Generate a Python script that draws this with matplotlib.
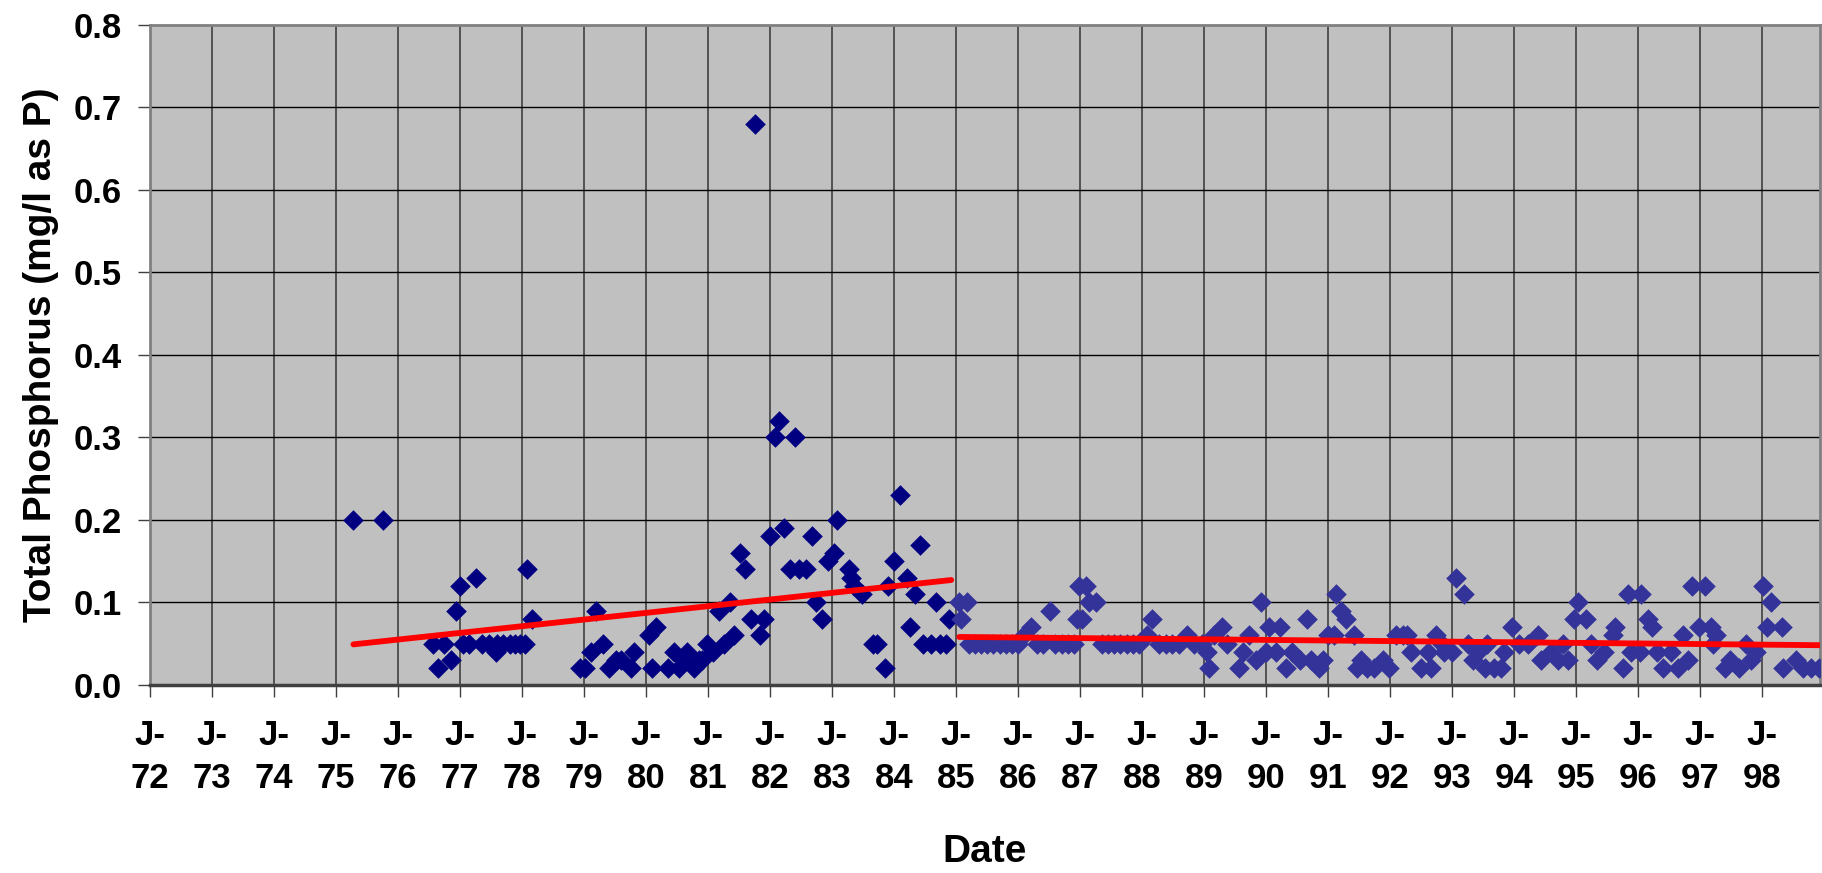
import matplotlib
matplotlib.use('Agg')
import matplotlib.pyplot as plt

# first period (navy) - decimal year, total phosphorus mg/l
dates1 = [75.28, 75.76,
          76.57, 76.65, 76.74, 76.85, 76.94, 77.0, 77.05, 77.15, 77.26, 77.35, 77.46,
          77.58, 77.59, 77.70, 77.80, 77.89, 77.97, 78.05, 78.08, 78.16,
          78.93, 79.02, 79.11, 79.19, 79.31, 79.40, 79.51, 79.59, 79.75, 79.80,
          80.05, 80.10, 80.16, 80.35, 80.45, 80.53, 80.61, 80.66, 80.77, 80.85, 80.90, 80.98,
          81.08, 81.17, 81.25, 81.36, 81.41, 81.51, 81.59, 81.69, 81.76, 81.84, 81.90,
          82.0, 82.08, 82.15, 82.22, 82.32, 82.40, 82.46, 82.58, 82.67, 82.74, 82.83,
          82.93, 83.03, 83.08, 83.27, 83.31, 83.36, 83.48, 83.66, 83.73, 83.86, 83.90,
          84.0, 84.09, 84.2, 84.26, 84.33, 84.41, 84.47, 84.59, 84.68, 84.74, 84.83, 84.88]
tp1 = [0.20, 0.20,
       0.05, 0.02, 0.05, 0.03, 0.09, 0.12, 0.05, 0.05, 0.13, 0.05, 0.05,
       0.04, 0.05, 0.05, 0.05, 0.05, 0.05, 0.05, 0.14, 0.08,
       0.02, 0.02, 0.04, 0.09, 0.05, 0.02, 0.03, 0.03, 0.02, 0.04,
       0.06, 0.02, 0.07, 0.02, 0.04, 0.02, 0.03, 0.04, 0.02, 0.03, 0.03, 0.05,
       0.04, 0.09, 0.05, 0.10, 0.06, 0.16, 0.14, 0.08, 0.68, 0.06, 0.08,
       0.18, 0.30, 0.32, 0.19, 0.14, 0.30, 0.14, 0.14, 0.18, 0.10, 0.08,
       0.15, 0.16, 0.20, 0.14, 0.13, 0.12, 0.11, 0.05, 0.05, 0.02, 0.12,
       0.15, 0.23, 0.13, 0.07, 0.11, 0.17, 0.05, 0.05, 0.10, 0.05, 0.05, 0.08]

# second period (blue)
dates2 = [85.05, 85.08, 85.18, 85.2, 85.3, 85.4, 85.5, 85.6, 85.7, 85.8, 85.9, 86.0,
          86.09, 86.2, 86.3, 86.4, 86.52, 86.6, 86.7, 86.8, 86.9, 86.95, 86.98,
          87.03, 87.09, 87.14, 87.25, 87.35, 87.45, 87.55, 87.65, 87.75, 87.85, 87.95,
          88.07, 88.16, 88.27, 88.38, 88.48, 88.6, 88.72, 88.83, 88.97,
          89.04, 89.08, 89.15, 89.29, 89.37, 89.56, 89.62, 89.72, 89.84, 89.91, 89.99,
          90.05, 90.15, 90.22, 90.32, 90.42, 90.54, 90.66, 90.72, 90.85, 90.91, 90.99,
          91.1, 91.12, 91.2, 91.28, 91.41, 91.47, 91.53, 91.63, 91.74, 91.88, 91.98,
          92.09, 92.2, 92.27, 92.33, 92.49, 92.61, 92.66, 92.74, 92.84, 92.87,
          93.0, 93.06, 93.19, 93.26, 93.34, 93.41, 93.52, 93.56, 93.68, 93.78, 93.84, 93.96,
          94.08, 94.22, 94.39, 94.43, 94.59, 94.7, 94.78, 94.87, 94.97,
          95.03, 95.15, 95.24, 95.33, 95.45, 95.59, 95.63, 95.75, 95.83, 95.88,
          96.02, 96.04, 96.15, 96.22, 96.3, 96.4, 96.53, 96.64, 96.72, 96.8, 96.87, 96.98,
          97.08, 97.17, 97.21, 97.25, 97.39, 97.48, 97.62, 97.74, 97.82, 97.9,
          98.01, 98.07, 98.14, 98.32, 98.33, 98.54, 98.65, 98.78, 98.92]
tp2 = [0.10, 0.08, 0.10, 0.05, 0.05, 0.05, 0.05, 0.05, 0.05, 0.05, 0.05, 0.05,
       0.06, 0.07, 0.05, 0.05, 0.09, 0.05, 0.05, 0.05, 0.05, 0.08, 0.12,
       0.08, 0.12, 0.10, 0.10, 0.05, 0.05, 0.05, 0.05, 0.05, 0.05, 0.05,
       0.06, 0.08, 0.05, 0.05, 0.05, 0.05, 0.06, 0.05, 0.05,
       0.04, 0.02, 0.06, 0.07, 0.05, 0.02, 0.04, 0.06, 0.03, 0.10, 0.04,
       0.07, 0.04, 0.07, 0.02, 0.04, 0.03, 0.08, 0.03, 0.02, 0.03, 0.06,
       0.06, 0.11, 0.09, 0.08, 0.06, 0.02, 0.03, 0.02, 0.02, 0.03, 0.02,
       0.06, 0.06, 0.06, 0.04, 0.02, 0.04, 0.02, 0.06, 0.05, 0.04,
       0.04, 0.13, 0.11, 0.05, 0.03, 0.04, 0.02, 0.05, 0.02, 0.02, 0.04, 0.07,
       0.05, 0.05, 0.06, 0.03, 0.04, 0.03, 0.05, 0.03, 0.08,
       0.10, 0.08, 0.05, 0.03, 0.04, 0.06, 0.07, 0.02, 0.11, 0.04,
       0.04, 0.11, 0.08, 0.07, 0.04, 0.02, 0.04, 0.02, 0.06, 0.03, 0.12, 0.07,
       0.12, 0.07, 0.05, 0.06, 0.02, 0.03, 0.02, 0.05, 0.03, 0.04,
       0.12, 0.07, 0.10, 0.07, 0.02, 0.03, 0.02, 0.02, 0.02]

# linear trend lines (end points)
trend1_x = [75.28, 84.92]
trend1_y = [0.049, 0.127]
trend2_x = [85.05, 98.93]
trend2_y = [0.058, 0.048]

years = list(range(72, 99))
year_labels = ['J-\n%d' % y for y in years]

plt.rcParams['font.family'] = ['Liberation Sans', 'DejaVu Sans']
plt.rcParams['font.weight'] = 'bold'

fig = plt.figure(figsize=(18.22, 8.73), dpi=100)
ax = fig.add_axes([150 / 1822, (873 - 684.8) / 873, 1670 / 1822, 660 / 873])
ax.set_facecolor('#C0C0C0')

ax.scatter(dates1, tp1, marker='D', s=110, color='#000080', linewidths=0, zorder=3)
ax.scatter(dates2, tp2, marker='D', s=110, color='#333399', linewidths=0, zorder=3)
ax.plot(trend1_x, trend1_y, color='#FF0000', lw=4.2, solid_capstyle='round', zorder=4)
ax.plot(trend2_x, trend2_y, color='#FF0000', lw=4.2, solid_capstyle='round', zorder=4)

ax.set_xlim(72, 98.93)
ax.set_ylim(0, 0.8)
ax.set_xticks(years)
ax.set_xticklabels(year_labels, linespacing=1.4)
ax.set_yticks([i / 10 for i in range(9)])
ax.set_yticklabels(['%.1f' % (i / 10) for i in range(9)])

for x in years:
    ax.axvline(x, color='#404040', lw=1.2, zorder=1)
for i in range(1, 8):
    ax.axhline(i / 10, color='black', lw=1.0, zorder=1)

for side in ['top', 'right', 'left']:
    ax.spines[side].set_color('#808080')
    ax.spines[side].set_linewidth(2)
ax.spines['bottom'].set_color('#404040')
ax.spines['bottom'].set_linewidth(2.5)

ax.tick_params(axis='both', labelsize=25, length=8.5, width=1, color='#404040')
ax.tick_params(axis='y', pad=12)
ax.tick_params(axis='x', pad=16)

ax.set_xlabel('Date', fontsize=28, fontweight='bold', labelpad=28)
ax.set_ylabel('Total Phosphorus (mg/l as P)', fontsize=28, fontweight='bold', labelpad=10)

fig.savefig('out.png', dpi=100)
